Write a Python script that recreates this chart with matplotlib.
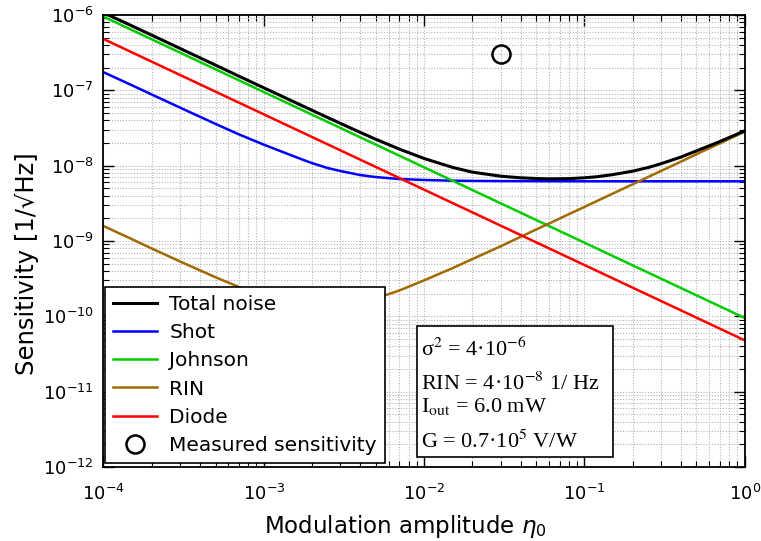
import matplotlib
matplotlib.use("Agg")
import matplotlib.pyplot as plt
from matplotlib.ticker import LogLocator, NullFormatter, FixedLocator
from matplotlib.patches import Rectangle

# ---- data ----
eta = [1e-4, 1.5e-4, 2e-4, 3e-4, 5e-4, 7e-4, 1e-3, 1.25e-3, 1.5e-3, 1.75e-3, 2e-3, 2.5e-3,
       3e-3, 4e-3, 5e-3, 7e-3, 1e-2, 1.5e-2, 2e-2, 3e-2, 4e-2, 5e-2, 6e-2, 8e-2,
       0.1, 0.12, 0.15, 0.2, 0.25, 0.3, 0.4, 0.5, 0.7, 1.0]

total = [1.07e-6, 7.19e-7, 5.40e-7, 3.60e-7, 2.16e-7, 1.54e-7, 1.08e-7, 8.66e-8, 7.22e-8,
         6.2e-8, 5.43e-8, 4.36e-8, 3.65e-8, 2.76e-8, 2.24e-8, 1.66e-8, 1.245e-8, 9.5e-9,
         8.2e-9, 7.25e-9, 6.9e-9, 6.75e-9, 6.68e-9, 6.73e-9, 6.9e-9, 7.13e-9, 7.6e-9,
         8.45e-9, 9.45e-9, 1.06e-8, 1.3e-8, 1.57e-8, 2.09e-8, 2.9e-8]

shot = [1.74e-7, 1.17e-7, 8.8e-8, 5.9e-8, 3.58e-8, 2.6e-8, 1.9e-8, 1.58e-8, 1.36e-8,
        1.2e-8, 1.08e-8, 9.3e-9, 8.5e-9, 7.5e-9, 7.05e-9, 6.65e-9, 6.45e-9, 6.32e-9,
        6.28e-9, 6.24e-9, 6.23e-9, 6.22e-9, 6.21e-9, 6.2e-9, 6.2e-9, 6.2e-9, 6.2e-9,
        6.2e-9, 6.2e-9, 6.2e-9, 6.2e-9, 6.2e-9, 6.2e-9, 6.2e-9]

rin = [1.58e-9, 1.06e-9, 7.95e-10, 5.35e-10, 3.3e-10, 2.45e-10, 1.86e-10, 1.62e-10, 1.48e-10,
       1.4e-10, 1.36e-10, 1.34e-10, 1.38e-10, 1.53e-10, 1.73e-10, 2.2e-10, 3.0e-10, 4.35e-10,
       5.75e-10, 8.5e-10, 1.136e-9, 1.42e-9, 1.7e-9, 2.27e-9, 2.83e-9, 3.4e-9, 4.25e-9,
       5.66e-9, 7.08e-9, 8.5e-9, 1.13e-8, 1.42e-8, 1.98e-8, 2.83e-8]

eta_dec = [1e-4, 1e-3, 1e-2, 1e-1, 1.0]
johnson = [9.5e-7, 9.5e-8, 9.5e-9, 9.5e-10, 9.5e-11]
diode = [4.8e-7, 4.8e-8, 4.8e-9, 4.8e-10, 4.8e-11]

meas_eta = [0.03]
meas_sens = [3.0e-7]

x_ticks = [1e-4, 1e-3, 1e-2, 1e-1, 1.0]
y_ticks = [1e-12, 1e-11, 1e-10, 1e-9, 1e-8, 1e-7, 1e-6]

labels = ["Total noise", "Shot", "Johnson", "RIN", "Diode", "Measured sensitivity"]
box_lines = ["σ$^2$ = 4·10$^{-6}$",
             "RIN = 4·10$^{-8}$ 1/ Hz",
             "I$_{\\rm out}$ = 6.0 mW",
             "G = 0.7·10$^{5}$ V/W"]

# ---- figure ----
plt.rcParams['font.family'] = ['DejaVu Sans']
fig = plt.figure(figsize=(7.61, 5.41), dpi=100)
ax = fig.add_axes([0.136, 0.1368, 0.8426, 0.8355])

c_blue = '#0000ff'
c_green = '#00cc00'
c_brown = '#a06a00'
c_red = '#ff0000'

h_shot, = ax.plot(eta, shot, color=c_blue, lw=1.8, label=labels[1])
h_john, = ax.plot(eta_dec, johnson, color=c_green, lw=1.8, label=labels[2])
h_rin, = ax.plot(eta, rin, color=c_brown, lw=1.8, label=labels[3])
h_diode, = ax.plot(eta_dec, diode, color=c_red, lw=1.8, label=labels[4])
h_tot, = ax.plot(eta, total, color='black', lw=2.2, label=labels[0])
h_meas, = ax.plot(meas_eta, meas_sens, 'o', mfc='none', mec='black', mew=1.8, ms=13,
                  label=labels[5], linestyle='none')

ax.set_xscale('log')
ax.set_yscale('log')
ax.set_xlim(1e-4, 1)
ax.set_ylim(1e-12, 1e-6)

ax.xaxis.set_major_locator(FixedLocator(x_ticks))
ax.yaxis.set_major_locator(FixedLocator(y_ticks))
ax.xaxis.set_minor_locator(LogLocator(base=10, subs=range(2, 10), numticks=20))
ax.yaxis.set_minor_locator(LogLocator(base=10, subs=range(2, 10), numticks=20))
ax.xaxis.set_minor_formatter(NullFormatter())
ax.yaxis.set_minor_formatter(NullFormatter())

ax.grid(True, which='both', color='#b4b4b4', linestyle=(0, (1, 1.5)), linewidth=0.8)
ax.set_axisbelow(True)

ax.tick_params(which='both', direction='in', top=True, right=True, colors='black')
ax.tick_params(which='major', length=8, width=1.0, labelsize=13, pad=7)
ax.tick_params(axis='x', which='major', pad=12)
ax.tick_params(which='minor', length=4.5, width=0.8)
for s in ax.spines.values():
    s.set_linewidth(1.3)

ax.set_xlabel(r'Modulation amplitude $\eta_0$', fontsize=16.5)
ax.xaxis.set_label_coords(0.470, -0.102)
ax.set_ylabel('Sensitivity [1/√Hz]', fontsize=17.5)
ax.yaxis.set_label_coords(-0.100, 0.45)

leg = ax.legend(handles=[h_tot, h_shot, h_john, h_rin, h_diode, h_meas], labels=labels,
                loc='lower left', bbox_to_anchor=(0.002, 0.0095), borderaxespad=0,
                fontsize=14.5, frameon=True, fancybox=False, framealpha=1,
                edgecolor='black', handlelength=2.2, handletextpad=0.6,
                labelspacing=0.45, borderpad=0.4)
leg.get_frame().set_linewidth(1.2)
leg.set_zorder(5)

# parameter box
ax.add_patch(Rectangle((0.4895, 0.0215), 0.305, 0.2905, transform=ax.transAxes,
                       facecolor='white', edgecolor='black', lw=1.2, zorder=6))
ys = [0.246, 0.171, 0.121, 0.042]
for txt, yy in zip(box_lines, ys):
    ax.text(0.4955, yy, txt, transform=ax.transAxes, fontsize=16,
            family='Liberation Serif', math_fontfamily='stix', zorder=7,
            va='baseline', ha='left')

fig.savefig('out.png', dpi=100)
